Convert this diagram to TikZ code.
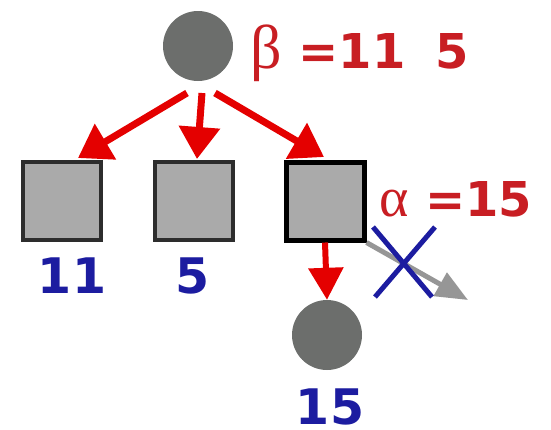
\documentclass[tikz,border=0pt]{standalone}
\usepackage{fontspec}
\setmainfont{DejaVu Sans}
\newfontfamily\greekfont{Liberation Serif}
\usetikzlibrary{arrows.meta}
\definecolor{redtext}{RGB}{200,30,35}
\definecolor{redarrow}{RGB}{228,0,0}
\definecolor{bluetext}{RGB}{28,28,160}
\definecolor{circgray}{RGB}{108,110,108}
\definecolor{sqfill}{RGB}{170,170,170}
\definecolor{sqborder}{RGB}{45,45,45}
\definecolor{grayarrow}{RGB}{150,150,150}
\tikzset{
  circ/.style={circle,fill=circgray,minimum size=70pt,inner sep=0pt},
  sq/.style={rectangle,fill=sqfill,draw=sqborder,line width=4pt,minimum width=78pt,minimum height=78pt,inner sep=0pt},
  redarr/.style={draw=redarrow,line width=7pt,-{Triangle[length=32pt,width=40pt]}},
  grayarr/.style={draw=grayarrow,line width=5pt,-{Triangle[length=32pt,width=26pt]}},
  cross/.style={draw=bluetext,line width=5pt},
  redlab/.style={text=redtext,font=\bfseries\fontsize{48}{48}\selectfont,inner sep=0pt,anchor=base west},
  bluelab/.style={text=bluetext,font=\bfseries\fontsize{49}{49}\selectfont,inner sep=0pt,anchor=base},
}
\begin{document}
\begin{tikzpicture}[x=1pt,y=-1pt]
\useasboundingbox (0,0) rectangle (551,429);
% nodes
\node[circ] (c1) at (198,46) {};
\node[sq] (s1) at (62,201) {};
\node[sq] (s2) at (194,201) {};
\node[sq,draw=black,line width=5pt] (s3) at (325,201) {};
\node[circ] (c2) at (327,335) {};
% labels
\node[redlab] (beta) at (250,68) {{\greekfont\mdseries\fontsize{62}{62}\selectfont β} =11\hspace{30pt}5};
\node[redlab] (alpha) at (379,216) {{\greekfont\mdseries\fontsize{56}{56}\selectfont α} =15};
\node[bluelab] (l1) at (72,293) {11};
\node[bluelab] (l2) at (193,293) {5};
\node[bluelab] (l3) at (330,424) {15};
% connector ends
\coordinate (a1) at (187,93);
\coordinate (a2) at (202,93);
\coordinate (a3) at (215,93);
\coordinate (t1) at (78,158);
\coordinate (t2) at (197,159);
\coordinate (t3) at (324,157);
\coordinate (g1) at (468,300);
\coordinate (x1) at (373,227);
\coordinate (x2) at (432,297);
\coordinate (x3) at (435,227);
\coordinate (x4) at (375,297);
% connectors
\draw[redarr] (a1) -- (t1);
\draw[redarr] (a2) -- (t2);
\draw[redarr] (a3) -- (t3);
\draw[redarr,line width=6pt,-{Triangle[length=32pt,width=34pt]}] (s3.south) -- (c2.north);
\draw[grayarr] (s3.south east) -- (g1);
\draw[cross] (x1) -- (x2);
\draw[cross] (x3) -- (x4);
\end{tikzpicture}
\end{document}
